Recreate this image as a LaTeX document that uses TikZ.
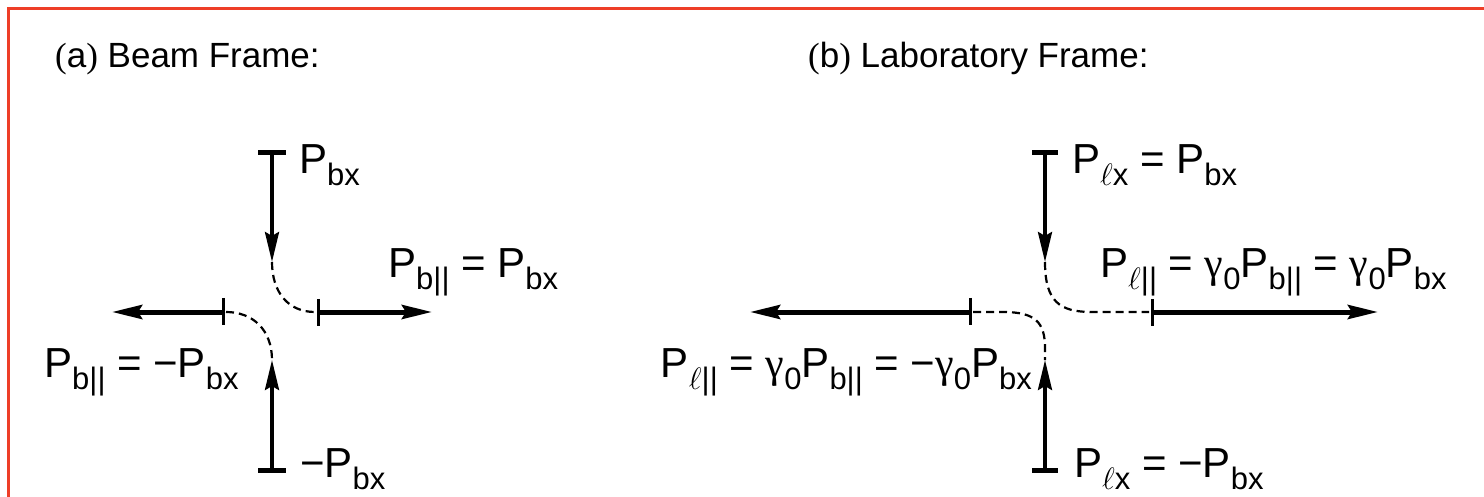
\RequirePackage{fix-cm}
\documentclass[tikz,border=0pt]{standalone}
\usepackage{fontspec}
\setmainfont{Liberation Sans}
\newfontfamily\grk{Liberation Serif}
\usetikzlibrary{arrows.meta}

\newcommand{\sbs}[1]{\raisebox{-12pt}{\fontsize{31}{31}\selectfont #1}}
\newcommand{\gz}{{\grk γ}\sbs{0}}
\newcommand{\bpar}{\sbs{b||}}
\newcommand{\lpar}{\sbs{$\ell$||}}
\newcommand{\lx}{\sbs{$\ell$x}}
\newcommand{\bx}{\sbs{bx}}
\definecolor{frame}{RGB}{238,62,40}

\begin{document}
\begin{tikzpicture}[x=1pt,y=-1pt,
  lbl/.style={anchor=base west, inner sep=0pt, font=\fontsize{42}{50}\selectfont},
  ttl/.style={anchor=base west, inner sep=0pt, font=\fontsize{35}{42}\selectfont},
  vline/.style={line width=3.5pt},
  hline/.style={line width=5pt},
  tbar/.style={line width=5pt},
  tickm/.style={line width=3pt},
  traj/.style={line width=2.2pt, dash pattern=on 8pt off 5pt},
  arr/.style={-{Stealth[length=30pt,width=14pt,inset=4pt]}}]
\useasboundingbox (0,0) rectangle (1484,497);
% frame
\draw[frame, line width=2.5pt] (8.5,497) -- (8.5,8.5) -- (1484,8.5);

% titles
\node[ttl] (ta) at (55,68) {{\grk(}a{\grk)} Beam Frame:};
\node[ttl] (tb) at (808,68) {{\grk(}b{\grk)} Laboratory Frame:};

% ---------- (a) beam frame ----------
\coordinate (aTop) at (272,153);
\coordinate (aTopL) at (258,153);
\coordinate (aTopR) at (286,153);
\coordinate (aUp) at (272,262);
\coordinate (aBot) at (272,470);
\coordinate (aBotL) at (258,470);
\coordinate (aBotR) at (286,470);
\coordinate (aLo) at (272,360);
\coordinate (aRt) at (318,312);
\coordinate (aRtA) at (318,299);
\coordinate (aRtB) at (318,326);
\coordinate (aRtEnd) at (432,312);
\coordinate (aLt) at (223,312);
\coordinate (aLtA) at (223,298);
\coordinate (aLtB) at (223,325);
\coordinate (aLtEnd) at (112,312);

\draw[tbar] (aTopL) -- (aTopR);
\draw[vline,arr] (aTop) -- (aUp);
\draw[tbar] (aBotL) -- (aBotR);
\draw[vline,arr] (aBot) -- (aLo);
\draw[hline,arr] (aRt) -- (aRtEnd);
\draw[tickm] (aRtA) -- (aRtB);
\draw[hline,arr] (aLt) -- (aLtEnd);
\draw[tickm] (aLtA) -- (aLtB);
\draw[traj] (aUp) .. controls (272,292) and (288,312) .. ([xshift=-3pt]aRt);
\draw[traj] ([xshift=3pt]aLt) .. controls (253,312) and (272,330) .. (aLo);

\node[lbl] (la1) at (299,174) {P\bx};
\node[lbl] (la2) at (388,278) {P\bpar{} = P\bx};
\node[lbl] (la3) at (44,377) {P\bpar{} = −P\bx};
\node[lbl] (la4) at (300,477) {−P\bx};

% ---------- (b) laboratory frame ----------
\coordinate (bTop) at (1045,153);
\coordinate (bTopL) at (1032,153);
\coordinate (bTopR) at (1058,153);
\coordinate (bUp) at (1045,262);
\coordinate (bBot) at (1045,470);
\coordinate (bBotL) at (1032,470);
\coordinate (bBotR) at (1058,470);
\coordinate (bLo) at (1045,360);
\coordinate (bRt) at (1152,312);
\coordinate (bRtA) at (1152,299);
\coordinate (bRtB) at (1152,326);
\coordinate (bRtEnd) at (1378,312);
\coordinate (bLt) at (970,312);
\coordinate (bLtA) at (970,298);
\coordinate (bLtB) at (970,325);
\coordinate (bLtEnd) at (750,312);

\draw[tbar] (bTopL) -- (bTopR);
\draw[vline,arr] (bTop) -- (bUp);
\draw[tbar] (bBotL) -- (bBotR);
\draw[vline,arr] (bBot) -- (bLo);
\draw[hline,arr] (bRt) -- (bRtEnd);
\draw[tickm] (bRtA) -- (bRtB);
\draw[hline,arr] (bLt) -- (bLtEnd);
\draw[tickm] (bLtA) -- (bLtB);
\draw[traj] (bUp) .. controls (1045,302) and (1060,312) .. (1092,312) -- ([xshift=-3pt]bRt);
\draw[traj] ([xshift=3pt]bLt) -- (1003,312) .. controls (1035,312) and (1045,322) .. (1045,348) -- (bLo);

\node[lbl] (lb1) at (1072,174) {P\lx{} = P\bx};
\node[lbl] (lb2) at (1100,278) {P\lpar{} = \gz P\bpar{} = \gz P\bx};
\node[lbl, anchor=base east] (lb3) at (1032,377) {P\lpar{} = \gz P\bpar{} = −\gz P\bx};
\node[lbl] (lb4) at (1074,477) {P\lx{} = −P\bx};
\end{tikzpicture}
\end{document}
